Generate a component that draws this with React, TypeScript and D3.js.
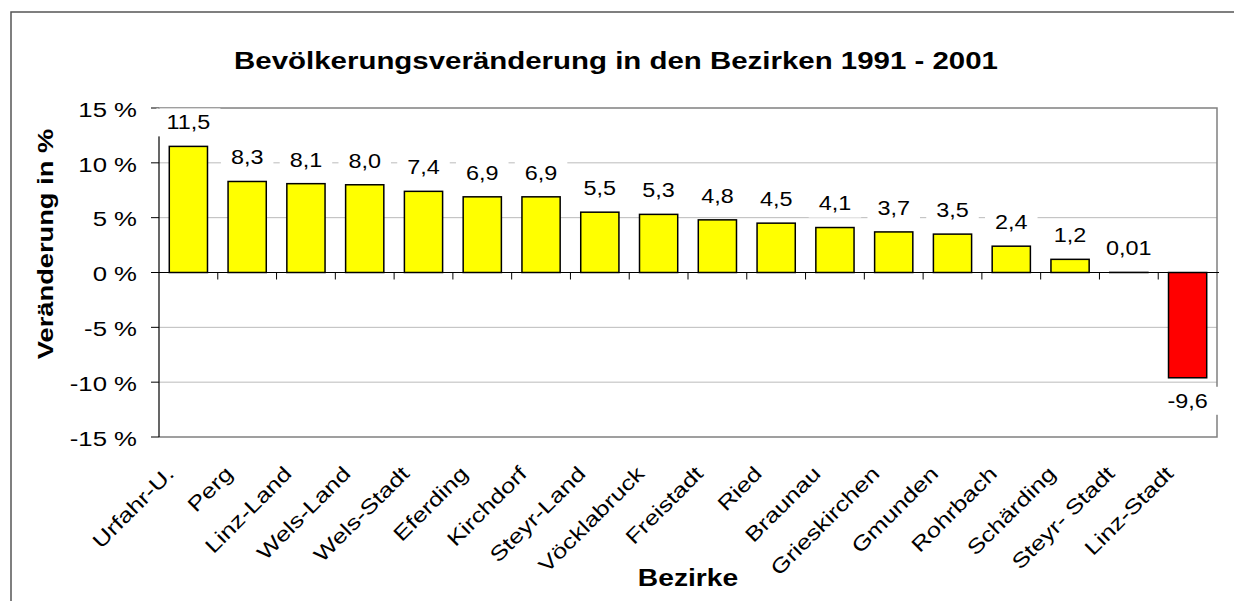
import React, { useEffect, useRef } from 'react';
import * as d3 from 'd3';

const districts = [
  'Urfahr-U.', 'Perg', 'Linz-Land', 'Wels-Land', 'Wels-Stadt', 'Eferding',
  'Kirchdorf', 'Steyr-Land', 'Vöcklabruck', 'Freistadt', 'Ried', 'Braunau',
  'Grieskirchen', 'Gmunden', 'Rohrbach', 'Schärding', 'Steyr- Stadt', 'Linz-Stadt',
];
const changes = [11.5, 8.3, 8.1, 8.0, 7.4, 6.9, 6.9, 5.5, 5.3, 4.8, 4.5, 4.1, 3.7, 3.5, 2.4, 1.2, 0.01, -9.6];
const valueLabels = ['11,5', '8,3', '8,1', '8,0', '7,4', '6,9', '6,9', '5,5', '5,3', '4,8', '4,5', '4,1', '3,7', '3,5', '2,4', '1,2', '0,01', '-9,6'];
const yTicks = [-15, -10, -5, 0, 5, 10, 15];
const yTickLabels = ['-15 %', '-10 %', '-5 %', '0 %', '5 %', '10 %', '15 %'];

const FONT = '"Liberation Sans", Arial, sans-serif';

const BarChart = ({ width = 1234, height = 601 }) => {
  const margin = { top: 108, right: 17, bottom: 164, left: 159 };
  const w = width - margin.left - margin.right;
  const h = height - margin.top - margin.bottom;
  const svgRef = useRef(null);

  useEffect(() => {
    const svg = d3.select(svgRef.current);
    svg.selectAll('*').remove();

    const xScale = d3
      .scaleBand()
      .domain(districts)
      .range([0, w])
      .paddingInner(0.35)
      .paddingOuter(0.175);

    const yScale = d3.scaleLinear().domain([-15, 15]).range([h, 0]);

    // outer frame (runs off the picture on the right and bottom)
    svg
      .append('rect')
      .attr('x', 11)
      .attr('y', 12)
      .attr('width', 1400)
      .attr('height', 800)
      .attr('fill', 'white')
      .attr('stroke', '#555')
      .attr('stroke-width', 1.5);

    // title
    svg
      .append('text')
      .attr('transform', `translate(616, 69) scale(1.28, 1)`)
      .attr('text-anchor', 'middle')
      .style('font-family', FONT)
      .style('font-weight', 'bold')
      .style('font-size', '23px')
      .text('Bevölkerungsveränderung in den Bezirken 1991 - 2001');

    const g = svg.append('g').attr('transform', `translate(${margin.left}, ${margin.top})`);

    // gridlines
    g.selectAll('.grid')
      .data(yTicks.filter((d) => d !== 0 && Math.abs(d) !== 15))
      .join('line')
      .attr('class', 'grid')
      .attr('x1', 0)
      .attr('x2', w)
      .attr('y1', (d) => yScale(d))
      .attr('y2', (d) => yScale(d))
      .attr('stroke', '#bbbbbb')
      .attr('stroke-width', 1);

    // plot border (top, right, bottom)
    g.append('path')
      .attr('d', `M0,${yScale(15)}H${w}V${yScale(-15)}H0`)
      .attr('fill', 'none')
      .attr('stroke', '#808080')
      .attr('stroke-width', 1.5);

    // y axis with ticks
    g.append('line')
      .attr('x1', 0)
      .attr('x2', 0)
      .attr('y1', yScale(15))
      .attr('y2', yScale(-15))
      .attr('stroke', '#000')
      .attr('stroke-width', 1.2);

    g.selectAll('.ytick')
      .data(yTicks)
      .join('line')
      .attr('class', 'ytick')
      .attr('x1', -8)
      .attr('x2', 0)
      .attr('y1', (d) => yScale(d))
      .attr('y2', (d) => yScale(d))
      .attr('stroke', '#000');

    g.selectAll('.ylabel')
      .data(yTicks)
      .join('text')
      .attr('class', 'ylabel')
      .attr('transform', (d) => `translate(-22, ${yScale(d) + 2}) scale(1.32, 1)`)
      .attr('dy', '0.35em')
      .attr('text-anchor', 'end')
      .style('font-family', FONT)
      .style('font-size', '19.5px')
      .text((d, i) => yTickLabels[i]);

    // bars
    g.selectAll('.bar')
      .data(changes)
      .join('rect')
      .attr('class', 'bar')
      .attr('x', (d, i) => xScale(districts[i]))
      .attr('width', xScale.bandwidth())
      .attr('y', (d) => yScale(Math.max(0, d)))
      .attr('height', (d) => Math.abs(yScale(d) - yScale(0)))
      .attr('fill', (d) => (d < 0 ? '#ff0000' : '#ffff00'))
      .attr('stroke', '#000')
      .attr('stroke-width', 1.5);

    // zero axis with category ticks
    g.append('line')
      .attr('x1', 0)
      .attr('x2', w + 2)
      .attr('y1', yScale(0))
      .attr('y2', yScale(0))
      .attr('stroke', '#000')
      .attr('stroke-width', 1.2);

    const step = xScale.step();
    g.selectAll('.xtick')
      .data(districts.slice(1))
      .join('line')
      .attr('class', 'xtick')
      .attr('x1', (d, i) => step * (i + 1))
      .attr('x2', (d, i) => step * (i + 1))
      .attr('y1', yScale(0))
      .attr('y2', yScale(0) + 7)
      .attr('stroke', '#000');

    // value labels with white background
    const labels = g
      .selectAll('.vlabel')
      .data(changes)
      .join('g')
      .attr('class', 'vlabel')
      .attr('transform', (d, i) => {
        const cx = xScale(districts[i]) + xScale.bandwidth() / 2;
        const cy = d < 0 ? yScale(d) + 23 : yScale(d) - 24;
        return `translate(${cx}, ${cy})`;
      });

    labels
      .append('rect')
      .attr('x', (d, i) => -(valueLabels[i].length * 11.5 + 18) / 2)
      .attr('width', (d, i) => valueLabels[i].length * 11.5 + 18)
      .attr('y', -14)
      .attr('height', 28)
      .attr('fill', 'white');

    labels
      .append('text')
      .attr('transform', 'scale(1.2, 1)')
      .attr('text-anchor', 'middle')
      .attr('dy', '0.35em')
      .style('font-family', FONT)
      .style('font-size', '19.5px')
      .text((d, i) => valueLabels[i]);

    // category labels
    g.selectAll('.xlabel')
      .data(districts)
      .join('text')
      .attr('class', 'xlabel')
      .attr('transform', (d) => {
        const cx = xScale(d) + xScale.bandwidth() / 2;
        return `translate(${cx - 13}, ${h + 38}) rotate(-45) scale(1.25, 1)`;
      })
      .attr('text-anchor', 'end')
      .style('font-family', FONT)
      .style('font-size', '20.5px')
      .text((d) => d);

    // axis titles
    g.append('text')
      .attr('transform', `translate(${w / 2}, ${h + 149}) scale(1.2, 1)`)
      .attr('text-anchor', 'middle')
      .style('font-family', FONT)
      .style('font-weight', 'bold')
      .style('font-size', '23.5px')
      .text('Bezirke');

    svg
      .append('text')
      .attr('transform', 'translate(53, 244) rotate(-90) scale(1.24, 1)')
      .attr('text-anchor', 'middle')
      .style('font-family', FONT)
      .style('font-weight', 'bold')
      .style('font-size', '22px')
      .text('Veränderung in %');
  }, [w, h, margin.left, margin.top]);

  return (
    <svg
      ref={svgRef}
      width={width}
      height={height}
      style={{ position: 'absolute', left: 0, top: 0, background: 'white' }}
    />
  );
};

export default function App() {
  return <BarChart />;
}
